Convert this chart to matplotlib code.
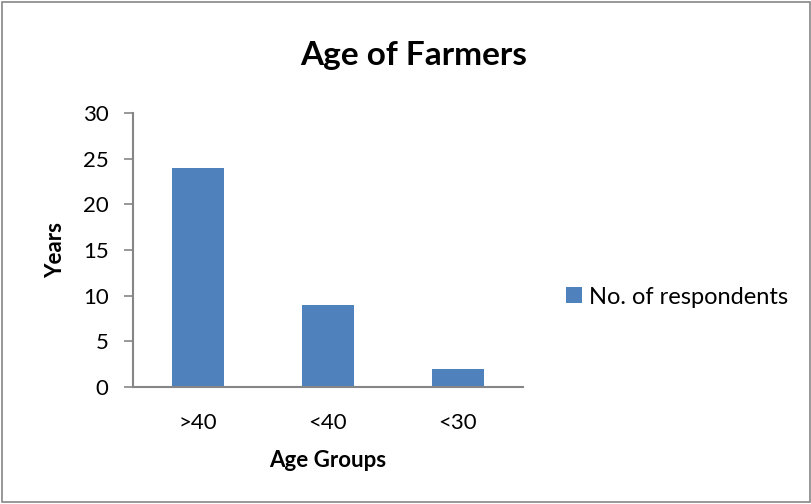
import matplotlib
matplotlib.use("Agg")
import matplotlib.pyplot as plt
from matplotlib.patches import Rectangle

categories = [">40", "<40", "<30"]
respondents = [24, 9, 2]
series_name = "No. of respondents"

plt.rcParams['font.family'] = ['Lato', 'DejaVu Sans']

fig = plt.figure(figsize=(8.12, 5.04), dpi=100)
fig.patches.append(Rectangle((0.002, 0.003), 0.995, 0.993, transform=fig.transFigure,
                             fill=False, edgecolor="#868686", linewidth=1.2))

ax = fig.add_axes([0.1638, 0.2321, 0.4803, 0.5437])
x = range(len(categories))
ax.bar(x, respondents, width=0.4, color="#4F81BD", label=series_name)
ax.set_xlim(-0.5, len(categories) - 0.5)
ax.set_ylim(0, 30)
ax.set_yticks(range(0, 31, 5))
ax.set_xticks(list(x))
ax.set_xticklabels(categories)

for s in ["top", "right"]:
    ax.spines[s].set_visible(False)
for s in ["left", "bottom"]:
    ax.spines[s].set_color("#868686")
    ax.spines[s].set_linewidth(1.5)
ax.tick_params(axis="y", length=6.5, width=1.2, color="#868686", labelsize=16, pad=11)
ax.tick_params(axis="x", length=0, labelsize=16, pad=19)

fig.text(0.51, 0.889, "Age of Farmers", fontsize=24, fontweight="bold",
         ha="center", va="center")
ax.set_xlabel("Age Groups", fontsize=16, fontweight="bold", labelpad=12)
ax.set_ylabel("Years", fontsize=16, fontweight="bold", labelpad=12)

fig.legend(loc="center left", bbox_to_anchor=(566 / 812, 1 - 297 / 504), frameon=False,
           fontsize=17, handlelength=0.68, handleheight=0.68, handletextpad=0.3,
           borderpad=0, borderaxespad=0)

fig.savefig("out.png", dpi=100)
